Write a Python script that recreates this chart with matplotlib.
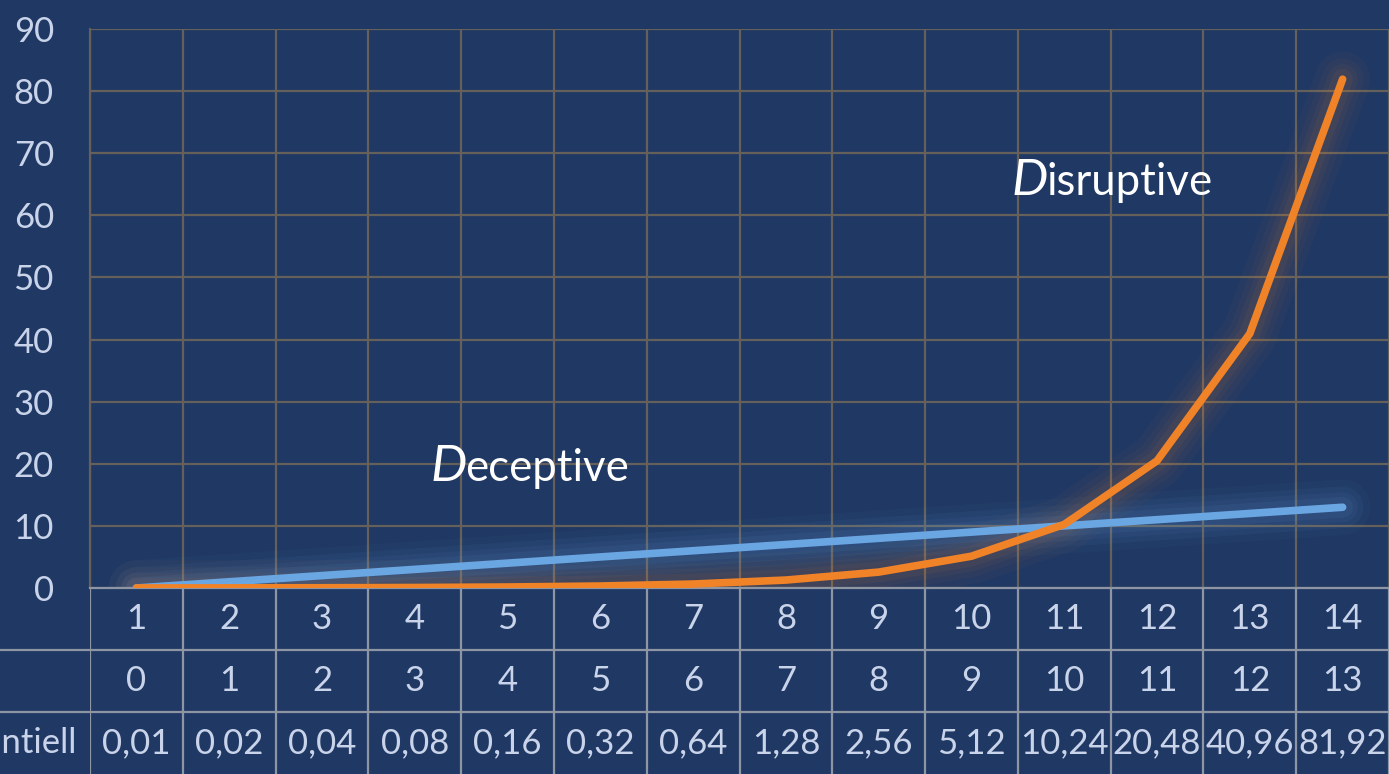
import numpy as np
import matplotlib.pyplot as plt
from matplotlib import transforms

plt.rcParams['font.family'] = ['Lato', 'DejaVu Sans']

# data
steps = [1, 2, 3, 4, 5, 6, 7, 8, 9, 10, 11, 12, 13, 14]
linear = [0, 1, 2, 3, 4, 5, 6, 7, 8, 9, 10, 11, 12, 13]
expo = [0.01, 0.02, 0.04, 0.08, 0.16, 0.32, 0.64, 1.28, 2.56, 5.12,
        10.24, 20.48, 40.96, 81.92]
row_label = 'Exponentiell'

bg = '#203864'
grid_c = '#65615a'
table_c = '#8e95a3'
txt_c = '#c9d4ea'
blue = '#6aa6e2'
orange = '#f08228'

W, H = 1389, 774
fig = plt.figure(figsize=(W / 100, H / 100), dpi=100, facecolor=bg)
ax = fig.add_axes([90 / W, (H - 588) / H, 1299 / W, (588 - 29) / H])
tax = fig.add_axes([90 / W, 0, 1299 / W, 186 / H])

ax.set_facecolor(bg)
ax.set_xlim(0.5, 14.5)
ax.set_ylim(0, 90)
ax.set_yticks(range(0, 91, 10))
ax.set_xticks(np.arange(0.5, 15, 1))
ax.set_xticklabels([])
ax.grid(True, color=grid_c, lw=1.6)
ax.set_axisbelow(True)
ax.tick_params(length=0, labelsize=25, labelcolor=txt_c, pad=26)
for s in ['top', 'right']:
    ax.spines[s].set_visible(False)
ax.spines['left'].set_color(grid_c)
ax.spines['left'].set_linewidth(1.6)
ax.spines['bottom'].set_color(table_c)
ax.spines['bottom'].set_linewidth(1.6)

# glow
for lw, a in [(40, 0.04), (30, 0.05), (22, 0.06), (15, 0.08)]:
    ax.plot(steps, linear, color=blue, lw=lw, alpha=a, solid_capstyle='round')
    ax.plot(steps, expo, color=orange, lw=lw, alpha=a * 0.8, solid_capstyle='round')
ax.plot(steps, linear, color=blue, lw=5.5, solid_capstyle='round', zorder=5)
ax.plot(steps, expo, color=orange, lw=5.5, solid_capstyle='round', zorder=6)

# labels with italic initial
fig.canvas.draw()
r = fig.canvas.get_renderer()
for x, y, word in [(4.17, 17.2, 'Deceptive'), (10.43, 63.3, 'Disruptive')]:
    t = ax.text(x, y, word[0], style='italic', fontsize=37, color='white',
                va='baseline', ha='left', zorder=8)
    w = t.get_window_extent(renderer=r).width
    tr = transforms.offset_copy(ax.transData, fig=fig, x=w * 72 / 100 - 1, y=0, units='points')
    ax.text(x, y, word[1:], fontsize=31.5, color='white', va='baseline', ha='left',
            transform=tr, zorder=8)

# data table
tax.set_facecolor(bg)
tax.set_xlim(0.5, 14.5)
tax.set_ylim(3, 0)
tax.axis('off')
for xb in np.arange(0.5, 15, 1):
    tax.axvline(xb, color=table_c, lw=1.6)
for yb in [1, 2]:
    tax.axhline(yb, xmin=-90 / 1299, xmax=1, color=table_c, lw=1.6, clip_on=False)
for i in range(len(steps)):
    tax.text(steps[i], 0.5, str(steps[i]), ha='center', va='center', fontsize=25, color=txt_c)
    tax.text(steps[i], 1.5, str(linear[i]), ha='center', va='center', fontsize=25, color=txt_c)
    tax.text(steps[i], 2.5, f'{expo[i]:.2f}'.replace('.', ','), ha='center', va='center',
             fontsize=25, color=txt_c)
tax.text(0.5 - 13 / 92.8, 2.5, row_label, ha='right', va='center', fontsize=25,
         color=txt_c, clip_on=False)

fig.savefig('out.png', dpi=100, facecolor=bg)
